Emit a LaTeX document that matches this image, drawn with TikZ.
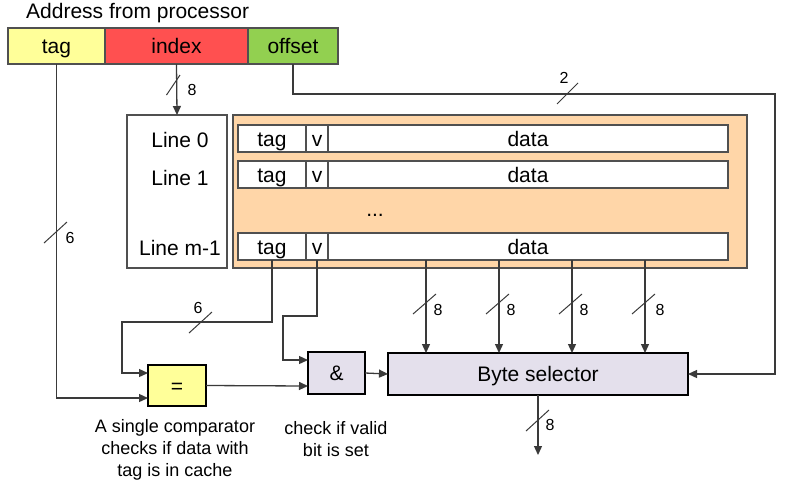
\documentclass[tikz,border=0pt]{standalone}
\usepackage{fontspec}
\setmainfont{Liberation Sans}
\usetikzlibrary{arrows.meta}
\definecolor{tagyel}{HTML}{FFFF99}
\definecolor{idxred}{HTML}{FF5050}
\definecolor{offgrn}{HTML}{92D050}
\definecolor{cacheor}{HTML}{FFD6A8}
\definecolor{sellav}{HTML}{E4E0EC}
\definecolor{linegray}{HTML}{505050}
\definecolor{wiregray}{HTML}{3A3A3A}
\tikzstyle{box}=[draw=linegray,line width=1.3pt,inner sep=0,outer sep=0,text height=15,text depth=0]
\tikzstyle{field}=[box,minimum height=36]
\tikzstyle{cell}=[box,fill=white,minimum height=27]
\tikzstyle{gate}=[draw=black,line width=2.2pt,inner sep=0,outer sep=0,text height=15,text depth=0]
\tikzstyle{lbl}=[font=\fontsize{16}{18}\selectfont,inner sep=0]
\tikzstyle{captxt}=[font=\fontsize{18}{22}\selectfont,align=center,inner sep=0]
\tikzstyle{wire}=[draw=wiregray,line width=1.3pt]
\tikzstyle{arr}=[wire,-{Triangle[length=9pt,width=8pt]}]

\begin{document}
\begin{tikzpicture}[x=1pt,y=-1pt,font=\fontsize{21}{25}\selectfont]
\useasboundingbox (0,0) rectangle (794,488);

\node[anchor=west,inner sep=0] (title) at (26,13) {Address from processor};
\node[field,fill=tagyel,minimum width=97] (atag) at (56.5,46) {tag};
\node[field,fill=idxred,minimum width=143] (aidx) at (176.5,46) {index};
\node[field,fill=offgrn,minimum width=90] (aoff) at (293,46) {offset};

% line numbers
\node[box,minimum width=100,minimum height=153] (lines) at (177,191.5) {};
\node (l0) at (180,140) {Line 0};
\node (l1) at (180,178) {Line 1};
\node (l2) at (180,248) {Line m-1};

% cache lines
\node[box,fill=cacheor,minimum width=514,minimum height=153] (cache) at (490,191.5) {};
\node[cell,minimum width=68] (t0) at (272,138.5) {tag};
\node[cell,minimum width=22] (v0) at (317,138.5) {v};
\node[cell,minimum width=400] (d0) at (528,138.5) {data};
\node[cell,minimum width=68] (t1) at (272,174.5) {tag};
\node[cell,minimum width=22] (v1) at (317,174.5) {v};
\node[cell,minimum width=400] (d1) at (528,174.5) {data};
\node (dots) at (375,215) {...};
\node[cell,minimum width=68] (t2) at (272,246.5) {tag};
\node[cell,minimum width=22] (v2) at (317,246.5) {v};
\node[cell,minimum width=400] (d2) at (528,246.5) {data};

\node[gate,fill=tagyel,minimum width=58,minimum height=41] (eq) at (177,385.5) {=};
\node[gate,fill=sellav,minimum width=57,minimum height=42] (and) at (336.5,373) {\&};
\node[box,draw=black,fill=sellav,minimum width=300,minimum height=42] (bsel) at (538,374) {Byte selector};

\node[captxt] (capeq) at (175,450) {A single comparator\\checks if data with\\tag is in cache};
\node[captxt] (capand) at (336,439) {check if valid\\bit is set};

\coordinate (eqin1) at (148,373);
\coordinate (eqin2) at (148,398);
\coordinate (andin1) at (308,360);
\coordinate (andin2) at (308,386);
\coordinate (tagc) at (122,322);
\coordinate (vc) at (283,316);
\coordinate (offc) at (775,94);
\coordinate (bin1) at (426,353);
\coordinate (bin2) at (499,353);
\coordinate (bin3) at (572,353);
\coordinate (bin4) at (645,353);
\coordinate (out) at (538,455);

\draw[arr] (aidx.south) -- (lines.north);
\draw[arr] (atag.south) |- (eqin2);
\draw[arr] (aoff.south) |- (offc) |- (bsel.east);
\draw[arr] (t2.south) |- (tagc) |- (eqin1);
\draw[arr] (v2.south) |- (vc) |- (andin1);
\draw[arr] (eq.east) -- (andin2);
\draw[arr] (and.east) -- (bsel.west);
\draw[arr] (bin1 |- d2.south) -- (bin1);
\draw[arr] (bin2 |- d2.south) -- (bin2);
\draw[arr] (bin3 |- d2.south) -- (bin3);
\draw[arr] (bin4 |- d2.south) -- (bin4);
\draw[arr] (bsel.south) -- (out);

% bus widths
\draw[wire,line width=1pt]
 (166.5,95) -- (180,75)
 (44,243) -- (67,222)
 (557,104) -- (578,83)
 (189,333) -- (212,312)
 (413,314) -- (436,294)
 (486,314) -- (509,294)
 (559,314) -- (582,294)
 (632,314) -- (655,294)
 (526,431) -- (549,410);
\node[lbl] (w0) at (192,90) {8};
\node[lbl] (w1) at (70,238) {6};
\node[lbl] (w2) at (564,78) {2};
\node[lbl] (w3) at (198,308) {6};
\node[lbl] (w4) at (438,310) {8};
\node[lbl] (w5) at (511,310) {8};
\node[lbl] (w6) at (584,310) {8};
\node[lbl] (w7) at (660,310) {8};
\node[lbl] (w8) at (550,425) {8};

\end{tikzpicture}
\end{document}
